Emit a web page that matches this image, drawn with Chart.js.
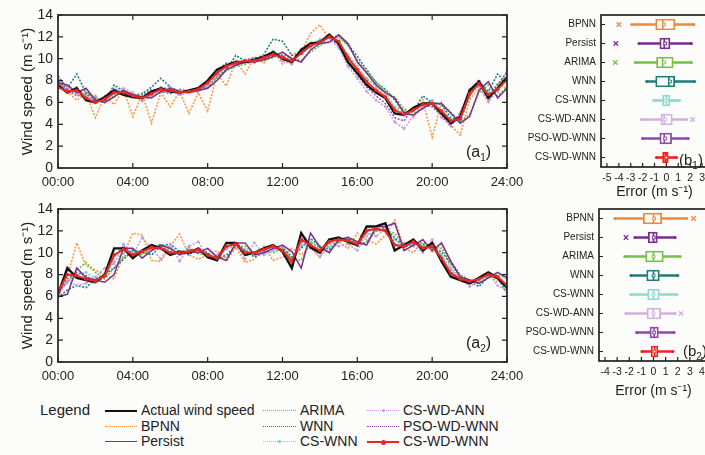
<!DOCTYPE html>
<html>
<head>
<meta charset="utf-8">
<title>Wind speed forecasts and error distributions</title>
<script src="https://cdn.jsdelivr.net/npm/chart.js@4.4.1/dist/chart.umd.min.js"></script>
<style>
  html, body { margin: 0; padding: 0; overflow: hidden; background: #fcfcfb; }
  body { width: 705px; height: 455px; position: relative; font-family: 'Liberation Sans', Arial, sans-serif; color: #222; }
  canvas { position: absolute; }
  #a1 { left: 0; top: 0; }
  #a2 { left: 0; top: 194px; }
  #b1 { left: 520px; top: 0; }
  #b2 { left: 520px; top: 194px; }
  .tag { position: absolute; font-size: 16px; line-height: 18px; }
  .tag sub { font-size: 10px; }
  .lg { position: absolute; font-size: 14px; line-height: 16px; white-space: nowrap; }
  .smp { position: absolute; height: 0; }
  .smp i { position: absolute; left: 50%; border-radius: 50%; }
</style>
</head>
<body>
<canvas id="a1" width="545" height="200"></canvas>
<canvas id="a2" width="545" height="200"></canvas>
<canvas id="b1" width="200" height="205"></canvas>
<canvas id="b2" width="200" height="210"></canvas>

<div class="tag" style="left:466px;top:143px">(a<sub>1</sub>)</div>
<div class="tag" style="left:466px;top:334px">(a<sub>2</sub>)</div>
<div class="tag" style="left:679px;top:151px;font-size:15px">(b<sub>1</sub>)</div>
<div class="tag" style="left:683px;top:342px;font-size:15px">(b<sub>2</sub>)</div>

<div id="legend"></div>

<script>
// ---- time axis: one value every half hour, 00:00 .. 24:00 ----
const STEP_H = 0.5;
const hourTicks = [0, 4, 8, 12, 16, 20, 24];

const models = ['BPNN', 'Persist', 'ARIMA', 'WNN', 'CS-WNN', 'CS-WD-ANN', 'PSO-WD-WNN', 'CS-WD-WNN'];

// ---- (a1) wind speed, m/s ----
const actualA1  = [7.6,6.9,7.3,6.2,6.0,6.5,7.1,6.7,6.5,6.4,7.0,7.3,7.0,6.9,7.1,7.3,8.0,9.0,9.4,9.7,9.7,9.9,10.2,10.6,10.0,9.7,10.8,11.4,11.5,12.2,11.4,9.7,8.7,7.6,6.9,6.4,5.0,4.85,5.5,5.9,5.9,5.0,4.1,4.7,7.1,7.9,6.4,7.3,8.3];
const bpnnA1    = [8.0,7.0,6.2,6.8,4.6,6.6,5.8,7.2,4.7,6.8,4.1,6.9,5.6,7.0,5.0,6.9,5.2,8.6,7.5,9.8,8.6,10.2,9.6,10.8,9.5,10.4,10.6,12.3,13.1,11.8,11.6,10.2,9.2,8.2,7.5,6.8,5.6,5.4,4.6,6.2,2.8,6.0,3.9,3.0,6.2,7.4,6.0,7.8,7.2];
const persistA1 = [7.8,7.6,6.9,7.3,6.2,6.0,6.5,7.1,6.7,6.5,6.4,7.0,7.3,7.0,6.9,7.1,7.3,8.0,9.0,9.4,9.7,9.7,9.9,10.2,10.6,10.0,9.7,10.8,11.4,11.5,12.2,11.4,9.7,8.7,7.6,6.9,6.4,5.0,4.85,5.5,5.9,5.9,5.0,4.1,4.7,7.1,7.9,6.4,7.3];
const arimaA1   = [7.8,7.4,7.0,7.0,6.4,6.1,6.6,7.0,6.8,6.5,6.6,6.9,7.1,7.0,6.9,7.1,7.4,8.2,8.9,9.3,9.5,9.8,9.8,10.1,10.4,10.0,9.9,10.6,11.2,11.6,12.0,11.2,9.9,8.8,7.9,7.0,6.5,5.4,5.0,5.4,5.9,5.9,5.1,4.3,4.9,6.9,7.6,6.6,7.4];
const wnnA1     = [8.4,7.3,8.6,6.9,6.4,6.1,7.6,7.0,6.6,6.8,7.4,8.2,7.4,7.0,6.9,7.3,7.4,8.4,9.0,10.3,9.8,9.9,10.4,11.8,11.6,10.3,10.4,11.2,11.7,11.9,12.1,11.3,10.2,9.0,7.8,7.2,6.2,5.1,5.2,6.6,6.0,5.8,4.6,4.3,6.6,7.9,7.0,8.6,7.8];
const csWnnA1   = [8.0,7.1,7.4,6.6,6.2,6.3,6.8,7.0,6.7,6.3,6.7,7.4,7.1,6.8,7.0,7.2,7.6,8.8,9.2,9.8,9.6,10.0,10.1,10.7,10.2,9.9,10.6,11.3,11.4,12.0,11.6,10.4,9.3,8.2,7.4,6.6,5.6,5.0,5.4,5.9,6.2,5.3,4.4,4.6,6.5,7.8,6.9,7.6,8.6];
const csWdAnnA1 = [8.2,7.4,6.8,6.3,6.6,6.0,6.9,7.3,6.9,6.1,6.6,7.3,7.4,6.7,6.9,7.0,7.5,8.5,9.4,9.5,9.9,9.6,10.3,10.5,9.8,9.5,10.9,11.0,11.8,11.9,11.0,9.3,8.2,7.0,6.2,5.6,4.2,3.6,4.8,5.4,6.1,4.6,3.9,5.0,7.2,7.4,6.1,7.0,9.0];
const psoA1     = [7.9,7.2,6.6,6.8,6.1,6.5,7.3,6.8,6.4,6.6,7.2,7.0,6.8,7.2,7.0,7.4,7.9,8.9,9.6,9.4,9.9,10.1,10.0,10.5,10.3,9.6,10.6,11.5,11.3,12.0,11.2,9.6,8.5,7.4,6.6,5.9,4.6,4.3,5.6,5.8,5.6,4.8,3.8,5.1,6.9,8.1,6.6,7.6,8.8];
const csWdWnnA1 = [7.4,7.0,7.1,6.4,6.0,6.3,6.9,6.9,6.6,6.4,6.8,7.2,7.1,6.9,7.0,7.2,7.8,8.7,9.3,9.6,9.8,9.8,10.1,10.4,10.1,9.8,10.5,11.2,11.5,12.0,11.6,10.1,9.0,7.9,7.1,6.5,5.3,4.9,5.3,5.8,5.9,5.2,4.3,4.5,6.8,7.7,6.7,7.2,8.1];

// ---- (a2) wind speed, m/s ----
const actualA2  = [6.2,8.6,7.7,7.5,7.3,8.0,10.4,10.4,9.5,10.2,10.7,10.4,9.8,10.1,10.0,10.4,9.6,9.3,10.9,10.9,9.8,10.0,10.4,10.7,10.1,8.6,11.8,10.5,10.0,11.2,11.4,11.0,10.7,12.4,12.4,12.7,10.2,10.7,11.2,10.2,10.9,9.2,7.8,7.5,7.2,7.7,8.2,7.7,6.8];
const bpnnA2    = [6.6,7.8,10.9,8.8,8.4,8.0,7.6,9.8,11.8,11.6,9.3,9.2,10.6,11.7,9.8,9.4,9.8,10.2,9.2,10.5,9.1,9.4,10.6,9.3,9.6,10.4,9.8,10.6,9.6,10.7,11.0,10.4,11.8,11.2,10.8,11.6,13.0,10.4,10.0,11.2,10.0,10.8,8.6,7.4,7.2,7.6,8.0,7.3,7.2];
const persistA2 = [6.0,6.2,8.6,7.7,7.5,7.3,8.0,10.4,10.4,9.5,10.2,10.7,10.4,9.8,10.1,10.0,10.4,9.6,9.3,10.9,10.9,9.8,10.0,10.4,10.7,10.1,8.6,11.8,10.5,10.0,11.2,11.4,11.0,10.7,12.4,12.4,12.7,10.2,10.7,11.2,10.2,10.9,9.2,7.8,7.5,7.2,7.7,8.2,7.7];
const arimaA2   = [6.6,7.2,8.4,9.1,8.2,7.6,8.6,9.6,10.1,9.8,10.4,10.8,10.3,9.9,10.5,9.9,9.8,9.5,9.6,10.5,10.6,9.9,10.1,10.0,10.4,9.4,9.3,11.0,10.4,10.1,11.0,11.2,10.9,10.9,12.0,12.0,11.8,10.6,10.7,10.9,10.4,10.4,9.2,8.0,7.5,7.2,7.8,8.0,7.6];
const wnnA2     = [5.9,6.6,7.0,6.8,7.6,8.0,8.6,9.4,10.2,10.1,9.8,10.6,10.8,10.1,9.8,10.4,10.0,9.4,9.8,10.6,10.2,9.6,10.0,10.3,10.5,9.6,10.4,11.3,10.6,10.3,11.0,11.4,10.6,11.0,12.0,12.2,11.4,10.5,10.8,10.8,10.4,10.1,9.0,7.8,7.4,6.9,7.8,7.7,6.3];
const csWnnA2   = [6.4,7.4,8.0,8.2,7.6,7.8,9.2,10.0,10.3,10.0,10.2,10.6,10.5,10.0,10.3,10.1,9.7,9.6,10.3,10.7,10.3,9.9,10.2,10.5,10.3,9.5,10.6,11.0,10.5,10.5,11.1,11.2,10.8,11.5,12.0,12.1,11.2,10.6,10.9,10.6,10.5,9.8,8.6,7.7,7.3,7.4,7.9,7.6,6.6];
const csWdAnnA2 = [6.0,7.4,7.0,7.2,7.8,8.6,9.0,10.8,9.8,11.4,10.4,9.4,10.8,9.2,10.6,11.0,9.6,9.8,10.4,10.8,9.4,10.9,9.8,10.2,10.6,9.0,10.8,10.4,9.6,11.2,10.6,10.8,10.2,11.8,11.5,12.2,10.2,10.9,10.6,10.0,11.2,9.4,8.4,7.6,6.9,7.4,8.1,7.0,6.5];
const psoA2     = [6.2,7.6,8.2,7.9,7.3,7.8,9.6,10.6,9.9,10.0,10.6,10.6,10.1,9.9,10.3,10.2,9.9,9.4,10.5,11.0,10.1,10.0,10.2,10.6,10.3,9.1,11.0,10.8,10.0,10.9,11.3,11.2,10.6,12.1,12.2,12.3,10.8,10.5,11.1,10.5,10.7,9.6,8.2,7.5,7.2,7.6,8.2,7.6,6.9];
const csWdWnnA2 = [6.4,8.0,7.9,7.6,7.4,7.9,9.8,10.3,9.8,10.1,10.5,10.4,10.0,10.0,10.1,10.3,9.8,9.5,10.6,10.8,10.0,10.0,10.3,10.6,10.2,9.2,11.2,10.7,10.2,11.0,11.2,11.1,10.8,12.0,12.2,12.0,10.7,10.6,11.0,10.4,10.6,9.5,8.1,7.6,7.4,7.6,8.0,7.8,7.0];

// ---- (b1) error box plots, m/s (model order as `models`) ----
const b1Min  = [-2.9, -2.3, -2.6, -1.65, -1.06, -2.1, -2.0, -0.83];
const b1Q1   = [-0.9, -0.55, -0.83, -0.9, -0.32, -0.45, -0.55, -0.32];
const b1Med  = [-0.3, -0.18, -0.32, 0.2, 0.0, -0.18, -0.18, -0.05];
const b1Q3   = [0.72, 0.3, 0.57, 0.7, 0.3, 0.5, 0.44, 0.15];
const b1Max  = [2.3, 2.1, 2.1, 2.37, 1.1, 1.7, 1.83, 0.85];
const b1Mean = [-0.2, -0.1, -0.2, 0.3, 0.0, -0.1, -0.1, 0.0];
const b1Out  = [-4.0, -4.25, -4.3, null, null, 2.2, null, null];

// ---- (b2) error box plots, m/s ----
const b2Min  = [-3.18, -1.53, -2.36, -1.86, -1.86, -2.27, -1.39, -0.95];
const b2Q1   = [-0.84, -0.43, -0.65, -0.56, -0.48, -0.53, -0.29, -0.2];
const b2Med  = [0.0, 0.0, 0.0, 0.0, 0.0, 0.0, 0.05, 0.1];
const b2Q3   = [0.68, 0.31, 0.81, 0.48, 0.48, 0.59, 0.4, 0.37];
const b2Max  = [2.74, 1.78, 2.19, 2.0, 1.92, 1.78, 1.69, 1.6];
const b2Mean = [0.05, 0.02, 0.0, 0.0, 0.0, 0.0, 0.05, 0.08];
const b2Out  = [3.3, -2.27, null, null, null, 2.27, null, null];

const errTicksB1 = [-5, -4, -3, -2, -1, 0, 1, 2, 3];
const errTicksB2 = [-4, -3, -2, -1, 0, 1, 2, 3, 4];

/* ===== styles ===== */
const FONT = "'Liberation Sans', Arial, sans-serif";
Chart.defaults.font.family = FONT;
Chart.defaults.color = '#222';

const boxColors = ['#f0883a', '#7b2d91', '#78c043', '#1b7e78', '#8fd8cc', '#d4aee0', '#8c4aa8', '#e8281e'];

const lineStyles = [
  { label: 'Actual wind speed', color: '#111111', width: 2.4, dash: [],       radius: 0,   order: 1 },
  { label: 'BPNN',              color: '#f29a4c', width: 1.6, dash: [2, 1.5], radius: 0,   order: 5 },
  { label: 'Persist',           color: '#7b2d91', width: 1.5, dash: [],       radius: 0,   order: 2 },
  { label: 'ARIMA',             color: '#6cbf3c', width: 1.6, dash: [2, 1.5], radius: 0,   order: 4 },
  { label: 'WNN',               color: '#1e7f86', width: 1.6, dash: [2, 1.5], radius: 0,   order: 4 },
  { label: 'CS-WNN',            color: '#79d0c4', width: 1.5, dash: [2, 1.5], radius: 1.3, order: 4 },
  { label: 'CS-WD-ANN',         color: '#c79ad9', width: 1.5, dash: [2, 1.5], radius: 1.3, order: 3 },
  { label: 'PSO-WD-WNN',        color: '#8a4fb0', width: 1.5, dash: [2, 1.5], radius: 0,   order: 3 },
  { label: 'CS-WD-WNN',         color: '#e8281e', width: 2.0, dash: [],       radius: 1.8, order: 0 }
];

/* ===== frame + inward ticks ===== */
const framePlugin = {
  id: 'frame',
  afterDraw(chart, args, opts) {
    const { ctx, chartArea: a, scales } = chart;
    ctx.save();
    ctx.strokeStyle = '#222';
    ctx.lineWidth = 1.7;
    ctx.strokeRect(a.left, a.top, a.right - a.left, a.bottom - a.top);
    ctx.lineWidth = 1.2;
    const len = opts.len || 5;
    ctx.beginPath();
    scales.x.ticks.forEach((t, i) => {
      const px = scales.x.getPixelForTick(i);
      ctx.moveTo(px, a.bottom); ctx.lineTo(px, a.bottom - len);
      if (opts.mirror) { ctx.moveTo(px, a.top); ctx.lineTo(px, a.top + len); }
    });
    scales.y.ticks.forEach((t, i) => {
      const py = scales.y.getPixelForTick(i);
      ctx.moveTo(a.left, py); ctx.lineTo(a.left + len, py);
      if (opts.mirror) { ctx.moveTo(a.right, py); ctx.lineTo(a.right - len, py); }
    });
    ctx.stroke();
    ctx.restore();
  }
};

// keep the plot width fixed: no extra room reserved for the end tick labels
function fixX(h) {
  return s => { s.height = h; s.paddingLeft = 0; s.paddingRight = 0; };
}

/* ===== (a) time series ===== */
function lineChart(id, series) {
  const datasets = series.map((vals, k) => {
    const s = lineStyles[k];
    return {
      label: s.label,
      data: vals.map((v, i) => ({ x: i * STEP_H, y: v })),
      borderColor: s.color,
      backgroundColor: s.color,
      borderWidth: s.width,
      borderDash: s.dash,
      pointRadius: s.radius,
      pointBorderWidth: 0,
      pointBackgroundColor: s.color,
      tension: 0,
      order: s.order
    };
  });
  return new Chart(document.getElementById(id), {
    type: 'line',
    data: { datasets },
    options: {
      responsive: false,
      animation: false,
      events: [],
      layout: { padding: { left: 19, top: 15, right: 38, bottom: 0 } },
      plugins: { legend: { display: false }, tooltip: { enabled: false }, frame: { mirror: true, len: 5 } },
      scales: {
        x: {
          type: 'linear', min: 0, max: 24,
          afterBuildTicks: s => { s.ticks = hourTicks.map(v => ({ value: v })); },
          afterFit: fixX(32),
          grid: { display: false, drawTicks: false },
          border: { display: false },
          ticks: { padding: 7, color: '#222', font: { size: 13 }, maxRotation: 0,
                   callback: v => String(v).padStart(2, '0') + ':00' }
        },
        y: {
          min: 0, max: 14,
          afterFit: s => { s.width = 39; },
          grid: { display: false, drawTicks: false },
          border: { display: false },
          ticks: { stepSize: 2, padding: 5, color: '#222', font: { size: 14 } },
          title: { display: true, text: 'Wind speed (m s\u207B\u00B9)', color: '#222', font: { size: 15 }, padding: { top: 0, bottom: 4 } }
        }
      }
    },
    plugins: [framePlugin]
  });
}

lineChart('a1', [actualA1, bpnnA1, persistA1, arimaA1, wnnA1, csWnnA1, csWdAnnA1, psoA1, csWdWnnA1]);
lineChart('a2', [actualA2, bpnnA2, persistA2, arimaA2, wnnA2, csWnnA2, csWdAnnA2, psoA2, csWdWnnA2]);

/* ===== (b) box plots ===== */
function boxChart(id, b, range, tickVals, axisW, axisH, fills) {
  const pts = (vals) => vals.map((v, i) => ({ x: v, y: models[i] })).filter(p => p.x !== null);
  const ptColors = (vals) => vals.map((v, i) => v === null ? null : boxColors[i]).filter(c => c !== null);
  return new Chart(document.getElementById(id), {
    type: 'bar',
    data: {
      labels: models,
      datasets: [
        { type: 'bar', data: models.map((m, i) => [b.min[i], b.max[i]]), backgroundColor: boxColors,
          barThickness: 2, grouped: false, order: 4 },
        { type: 'bar', data: models.map((m, i) => [b.q1[i], b.q3[i]]), backgroundColor: fills,
          borderColor: boxColors, borderWidth: 1.8, borderSkipped: false, barThickness: 11, grouped: false, order: 3 },
        { type: 'scatter', data: pts(b.med), pointStyle: 'line', rotation: 90, radius: 5.5,
          borderColor: boxColors, borderWidth: 1.6, order: 2 },
        { type: 'scatter', data: pts(b.mean), pointStyle: 'rect', radius: 2,
          borderColor: boxColors, backgroundColor: '#fff', borderWidth: 1, order: 1 },
        { type: 'scatter', data: pts(b.min).concat(pts(b.max)), pointStyle: 'circle', radius: 1.6,
          borderColor: boxColors.concat(boxColors), backgroundColor: boxColors.concat(boxColors), borderWidth: 0, order: 2 },
        { type: 'scatter', data: pts(b.out), pointStyle: 'crossRot', radius: 3.2,
          borderColor: ptColors(b.out), borderWidth: 1.2, order: 0 }
      ]
    },
    options: {
      indexAxis: 'y',
      responsive: false,
      animation: false,
      events: [],
      layout: { padding: { left: 0, top: 15, right: 12, bottom: 0 } },
      plugins: { legend: { display: false }, tooltip: { enabled: false }, frame: { mirror: false, len: 4 } },
      scales: {
        x: {
          type: 'linear', min: range[0], max: range[1],
          afterBuildTicks: s => { s.ticks = tickVals.map(v => ({ value: v })); },
          afterFit: fixX(axisH),
          grid: { display: false, drawTicks: false },
          border: { display: false },
          ticks: { autoSkip: false, maxRotation: 0, padding: 5, color: '#222', font: { size: 10.5 } },
          title: { display: true, text: 'Error (m s\u207B\u00B9)', color: '#222', font: { size: 14 }, padding: { top: 0, bottom: 4 } }
        },
        y: {
          type: 'category', offset: true,
          afterFit: s => { s.width = axisW; },
          grid: { display: false, drawTicks: false },
          border: { display: false },
          ticks: { padding: 5, color: '#222', font: { size: 10 } }
        }
      }
    },
    plugins: [framePlugin]
  });
}

const fillsB1 = boxColors.map((c, i) => i === 7 ? '#f46a5a' : '#ffffff');
const fillsB2 = boxColors.map(() => '#ffffff');

boxChart('b1', { min: b1Min, q1: b1Q1, med: b1Med, q3: b1Q3, max: b1Max, mean: b1Mean, out: b1Out },
  [-5.5, 3.5], errTicksB1, 81, 38, fillsB1);
boxChart('b2', { min: b2Min, q1: b2Q1, med: b2Med, q3: b2Q3, max: b2Max, mean: b2Mean, out: b2Out },
  [-4.5, 4.5], errTicksB2, 79, 43, fillsB2);

/* ===== legend (3 columns, column-major) ===== */
const legendCols = [{ smp: 105, txt: 141 }, { smp: 263, txt: 300 }, { smp: 367, txt: 403 }];
const legendRows = [402, 418, 433];
const legendEl = document.getElementById('legend');
legendEl.innerHTML = '<div class="lg" style="left:40px;top:' + legendRows[0] + 'px;font-size:15px">Legend</div>';
lineStyles.forEach((s, k) => {
  const col = legendCols[Math.floor(k / 3)];
  const top = legendRows[k % 3];
  const style = s.dash.length ? 'dotted' : 'solid';
  const w = s.dash.length ? 1.5 : s.width;
  const d = s.radius > 1.5 ? 5 : 3;
  const dot = s.radius ? '<i style="background:' + s.color + ';width:' + d + 'px;height:' + d + 'px;margin-left:' + (-d / 2) +
    'px;top:' + (-(d + w) / 2) + 'px"></i>' : '';
  legendEl.innerHTML +=
    '<span class="smp" style="left:' + col.smp + 'px;top:' + (top + 8) + 'px;width:' + (col.txt - col.smp - 4) +
    'px;border-top:' + w + 'px ' + style + ' ' + s.color + '">' + dot + '</span>' +
    '<div class="lg" style="left:' + col.txt + 'px;top:' + top + 'px">' + s.label + '</div>';
});
</script>
</body>
</html>
